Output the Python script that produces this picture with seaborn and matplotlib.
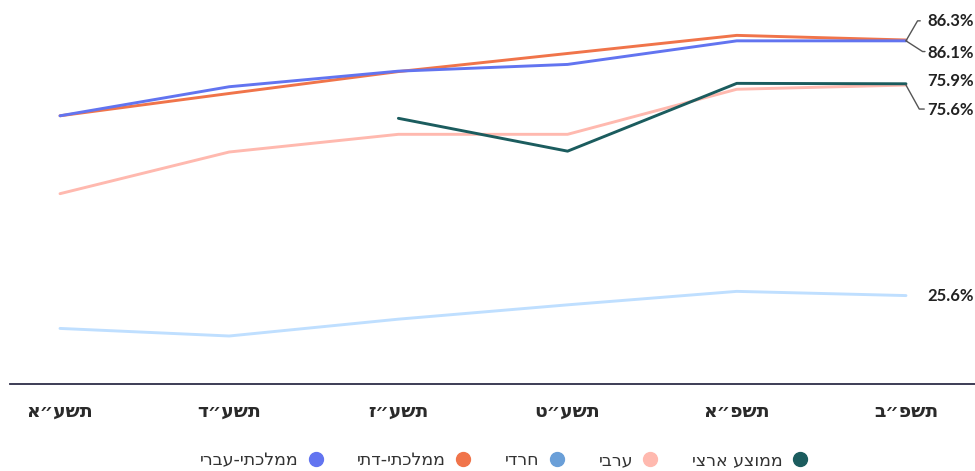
import seaborn as sns
import pandas as pd
import numpy as np
import matplotlib.pyplot as plt
import matplotlib.transforms as mtransforms
from matplotlib.lines import Line2D

sns.set_theme(style="white")
plt.rcParams['font.family'] = ['DejaVu Sans']

# school years (logical Hebrew order)
years = ['תשע״א', 'תשע״ד', 'תשע״ז', 'תשע״ט', 'תשפ״א', 'תשפ״ב']

mamlachti_ivri = [68.3, 75.2, 78.9, 80.5, 86.1, 86.1]
mamlachti_dati = [68.3, 73.6, 78.8, 83.1, 87.4, 86.3]
haredi = [17.8, 16.0, 20.0, 23.4, 26.6, 25.6]
aravi = [49.8, 59.7, 63.9, 63.9, 74.6, 75.6]
memutza_artzi = [np.nan, np.nan, 67.7, 59.9, 76.0, 75.9]

groups = ['ממלכתי-עברי', 'ממלכתי-דתי', 'חרדי', 'ערבי', 'ממוצע ארצי']
series = [mamlachti_ivri, mamlachti_dati, haredi, aravi, memutza_artzi]
line_colors = ['#6274f0', '#f0744a', '#bfdfff', '#ffb9af', '#1b5c5e']
legend_colors = ['#6274f0', '#f0744a', '#6a9fd8', '#ffb9af', '#1b5c5e']

rows = []
for g, vals in zip(groups, series):
    for i, v in enumerate(vals):
        rows.append({'group': g, 'x': i, 'value': v})
df = pd.DataFrame(rows).dropna()

def rtl(s):
    # matplotlib has no bidi support, so draw Hebrew in visual order
    return s[::-1]

fig = plt.figure(figsize=(9.75, 4.71), dpi=100)
ax = fig.add_axes([10 / 975, 1 - 384 / 471, 965 / 975, 384 / 471])

draw_order = ['חרדי', 'ערבי', 'ממלכתי-דתי', 'ממלכתי-עברי', 'ממוצע ארצי']
pal = dict(zip(groups, line_colors))
for g in draw_order:
    sns.lineplot(data=df[df['group'] == g], x='x', y='value', color=pal[g],
                 linewidth=2.1, ax=ax, legend=False)

ax.set_xlim(-0.2955, 5.408)
ax.set_ylim(4.6, 95.8)
ax.set_xlabel('')
ax.set_ylabel('')
ax.set_yticks([])
for s in ['left', 'top', 'right']:
    ax.spines[s].set_visible(False)
ax.spines['bottom'].set_color('#2d2d48')
ax.spines['bottom'].set_linewidth(1.3)

ax.set_xticks(range(len(years)))
ax.set_xticklabels([rtl(y) for y in years], fontsize=13.5, fontweight='bold',
                   color='#2a2a2a')
ax.tick_params(axis='x', which='major', length=0, pad=13)
ax.set_xticks([0.48, 1.50, 2.52, 3.55, 4.56], minor=True)
ax.tick_params(axis='x', which='minor', length=5, width=1.2, color='#2d2d48',
               direction='out')

# end labels
end_vals = ['86.3%', '86.1%', '75.9%', '75.6%', '25.6%']
end_y = [86.3, 86.1, 75.9, 75.6, 25.6]
text_dy = [13.7, -9.1, 1.7, -18.0, 0.0]
for lab, yv, dy in zip(end_vals, end_y, text_dy):
    ax.annotate(lab, xy=(5, yv), xytext=(15.1, dy), textcoords='offset points',
                ha='left', va='center', fontsize=12, fontweight='bold',
                family=['Lato', 'DejaVu Sans'], color='#222222')

leaders = [
    (86.1, [0, 0.116, 0.143], [0, 0.20, 0.20]),
    (86.1, [0, 0.166, 0.19], [0, -0.107, -0.107]),
    (75.6, [0, 0.133, 0.183], [0, -0.24, -0.24]),
]
for yv, lx, ly in leaders:
    tr = fig.dpi_scale_trans + mtransforms.ScaledTranslation(5, yv, ax.transData)
    ax.plot(lx, ly, color='#555555', lw=1, transform=tr, clip_on=False)

handles = [Line2D([], [], marker='o', linestyle='', markersize=10,
                  markerfacecolor=c, markeredgecolor=c) for c in legend_colors]
fig.legend(handles, [rtl(g) for g in groups], loc='center',
           bbox_to_anchor=(0.518, 1 - 460 / 471), ncol=5, frameon=False,
           markerfirst=False, fontsize=12.5, handletextpad=0.4,
           handlelength=1.2, columnspacing=1.8, labelcolor='#333333',
           borderpad=0.1)

fig.savefig('out.png', dpi=100)
